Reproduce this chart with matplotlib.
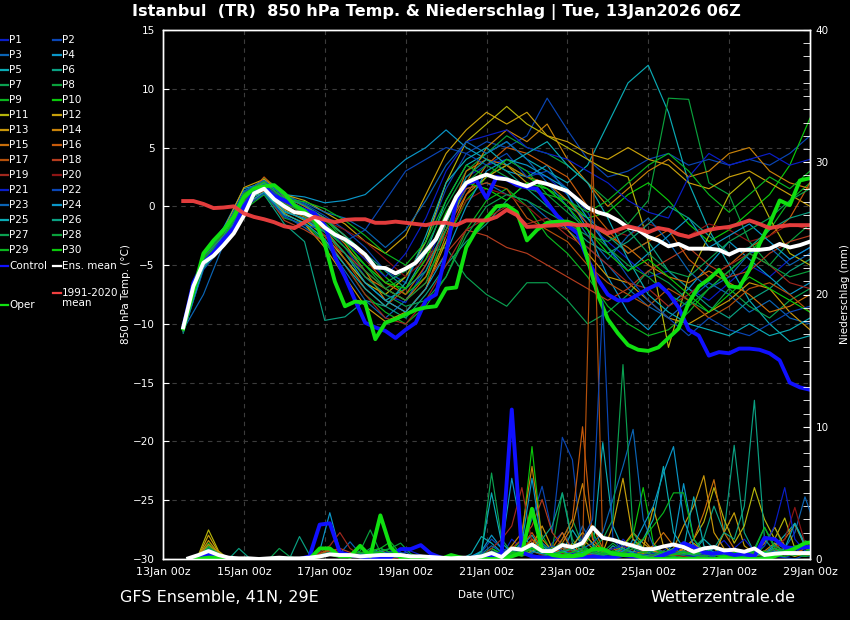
import numpy as np
import matplotlib
matplotlib.use("Agg")
import matplotlib.pyplot as plt
import matplotlib.dates as mdates
from matplotlib.lines import Line2D

# Zeitachsen: Temperatur 6-stuendlich ab 13Jan 12Z, Mitglieder 12-stuendlich, Niederschlag 6h-Summen (Mitte des Intervalls)
t6 = np.datetime64('2026-01-13T12:00') + np.arange(63) * np.timedelta64(6, 'h')
t12 = np.datetime64('2026-01-13T12:00') + np.arange(32) * np.timedelta64(12, 'h')
tp = np.datetime64('2026-01-13T15:00') + np.arange(63) * np.timedelta64(6, 'h')

# 850 hPa Temperatur (°C)
temp_control = [-10.3, -6.5, -4.8, -3.9, -2.8, -1.8, 0.0, 1.2, 1.65, 0.9, 0.5, 0.1, -0.3, -0.6, -1.6, -4.3,
                -6.0, -8.0, -9.9, -10.3, -10.6, -11.2, -10.5, -9.9, -8.0, -7.5, -4.0, 0.5, 1.9, 2.2, 0.7, 2.5,
                2.3, 1.8, 1.6, 1.5, 0.3, -0.8, -1.6, -2.3, -4.5, -6.2, -7.5, -8.0, -8.0, -7.5, -7.0, -6.6,
                -7.4, -8.6, -10.5, -11.0, -12.7, -12.4, -12.5, -12.1, -12.1, -12.2, -12.5, -13.1, -15.0, -15.4, -15.6]
temp_oper = [-10.4, -7.2, -4.0, -2.9, -2.0, -0.9, 0.8, 1.5, 1.7, 1.8, 1.1, 0.1, -0.4, -1.2, -3.2, -6.4,
             -8.5, -8.1, -8.2, -11.3, -9.9, -9.6, -9.2, -8.8, -8.6, -8.5, -7.0, -6.9, -3.5, -2.0, -1.0, 0.0,
             0.1, -0.5, -2.9, -2.0, -1.4, -1.3, -1.3, -1.6, -4.5, -7.5, -9.6, -10.8, -11.8, -12.2, -12.3, -12.0,
             -11.2, -10.4, -8.2, -6.8, -6.2, -5.4, -6.8, -6.9, -5.4, -3.2, -1.5, 0.5, 0.1, 2.2, 2.4]
temp_mean = [-10.3, -6.8, -4.8, -4.2, -3.3, -2.3, -0.8, 1.1, 1.5, 0.6, 0.0, -0.5, -0.6, -1.0, -1.8, -2.4,
             -2.8, -3.4, -4.1, -5.2, -5.25, -5.7, -5.3, -4.8, -3.8, -2.8, -1.0, 0.8, 2.0, 2.4, 2.7, 2.4,
             2.3, 2.0, 1.7, 2.1, 1.9, 1.6, 1.3, 0.6, -0.1, -0.5, -0.75, -1.2, -1.8, -2.0, -2.6, -2.9,
             -3.4, -3.2, -3.6, -3.6, -3.6, -3.7, -4.1, -3.7, -3.7, -3.7, -3.6, -3.2, -3.5, -3.3, -3.0]
temp_clim = [0.45, 0.45, 0.2, -0.15, -0.1, 0.0, -0.6, -0.9, -1.1, -1.35, -1.7, -1.85, -1.35, -0.9, -1.15, -1.35,
             -1.15, -1.1, -1.1, -1.4, -1.4, -1.3, -1.4, -1.5, -1.6, -1.4, -1.4, -1.6, -1.2, -1.2, -1.2, -0.9,
             -0.3, -0.75, -1.75, -1.7, -1.65, -1.6, -1.5, -1.6, -1.6, -1.85, -2.3, -2.0, -1.7, -1.9, -2.2, -1.85,
             -2.0, -2.4, -2.6, -2.3, -2.0, -1.85, -1.75, -1.5, -1.2, -1.5, -1.85, -1.7, -1.6, -1.6, -1.6]

# Mitglieder P1..P30, 12-stuendlich
temp_members = [
    [-10.6, -4.6, -2.5, 0.8, 1.8, 0.2, -0.5, -1.5, -3.5, -6.0, -7.5, -8.2, -5.0, -1.0, 2.5, 3.5, 4.0, 3.0, 2.5, 1.0, -1.5, -3.0, -4.5, -6.0, -5.5, -7.0, -8.0, -6.5, -5.0, -6.0, -4.5, -3.5],
    [-10.4, -4.2, -2.2, 1.2, 2.2, 0.8, 0.2, -0.8, -2.0, -3.5, -5.5, -6.5, -3.0, 1.5, 4.5, 5.5, 5.0, 6.0, 9.2, 6.5, 4.0, 2.5, 3.0, 4.0, 4.5, 3.5, 4.0, 3.5, 4.0, 3.5, 4.5, 6.0],
    [-10.5, -7.5, -3.2, 0.2, 1.5, -0.8, -1.8, -3.0, -5.5, -8.0, -9.5, -8.0, -5.5, -2.0, 1.5, 2.0, 1.0, 0.5, -1.0, -2.0, -3.5, -5.0, -7.0, -8.5, -9.5, -8.0, -6.5, -7.5, -9.0, -8.0, -9.5, -10.0],
    [-10.2, -4.0, -1.8, 1.5, 2.0, 1.0, 0.8, 0.3, 0.5, 1.0, 2.5, 4.0, 5.0, 6.5, 5.0, 4.0, 3.0, 2.5, 3.5, 1.0, -2.0, -6.0, -9.0, -10.5, -8.5, -7.0, -5.0, -3.0, -4.5, -6.0, -7.5, -6.5],
    [-10.5, -4.8, -2.8, 0.5, 1.2, -0.5, -1.0, -2.5, -4.5, -6.5, -8.0, -7.0, -4.0, 0.5, 3.5, 4.5, 5.5, 4.0, 3.0, 2.0, 3.5, 7.0, 10.5, 12.0, 8.0, 2.0, -2.0, -5.0, -8.0, -10.0, -11.5, -11.0],
    [-10.8, -5.2, -3.0, 0.0, 1.0, -1.5, -3.0, -9.7, -9.4, -8.0, -8.5, -9.5, -7.5, -5.0, -3.0, -1.5, 0.5, 2.0, 1.5, 0.0, -1.0, -2.5, -4.0, -3.0, -5.5, -7.0, -8.5, -9.5, -8.0, -7.0, -5.5, -4.5],
    [-10.6, -5.0, -3.2, 0.0, 1.8, 0.5, -0.8, -2.0, -3.5, -5.0, -6.5, -5.5, -4.0, -3.5, -6.0, -7.5, -8.5, -6.5, -6.5, -8.0, -10.0, -9.0, -7.5, -5.5, -6.5, -8.0, -9.0, -7.0, -8.5, -9.5, -8.0, -7.0],
    [-10.4, -4.5, -2.6, 1.0, 2.4, 1.2, 0.0, -1.0, -3.0, -5.0, -7.0, -6.0, -3.5, 0.0, 3.0, 4.5, 6.0, 5.0, 4.5, 3.5, 2.0, 0.5, -1.5, 0.5, 9.2, 9.1, 2.0, 1.0, -3.0, -5.0, -3.0, -1.5],
    [-10.7, -5.3, -3.4, -0.3, 1.0, -1.0, -1.5, -3.0, -5.0, -7.5, -9.0, -10.0, -8.5, -6.0, -2.0, 0.5, 1.5, 0.0, -2.5, -4.0, -6.0, -8.5, -10.0, -11.0, -10.5, -9.0, -7.0, -5.5, -4.0, -2.0, 0.5, 2.0],
    [-10.3, -4.3, -2.4, 0.8, 2.0, 0.6, -0.2, -1.2, -2.5, -4.0, -6.0, -7.5, -6.0, -3.0, 0.5, 2.5, 3.5, 2.5, 1.5, 0.5, -1.0, -0.5, 1.0, 2.0, 0.5, -1.5, -3.0, -2.0, -0.5, 1.0, 3.5, 7.5],
    [-10.5, -4.6, -2.7, 0.4, 1.4, -0.3, -1.2, -2.5, -4.5, -6.5, -7.5, -6.0, -3.0, 2.0, 5.5, 7.0, 8.5, 7.0, 6.0, 5.0, 4.0, 3.0, 2.5, -3.0, -12.0, -6.0, -2.5, 1.0, 2.5, -1.0, -4.0, -5.0],
    [-10.4, -4.0, -2.0, 1.6, 2.3, 1.0, 0.5, -0.5, -1.5, -3.0, -4.0, -2.5, 1.0, 4.5, 6.5, 8.0, 7.0, 8.0, 6.0, 5.5, 4.5, 4.0, 5.0, 4.0, 3.5, 2.0, 1.5, 2.5, 3.0, 2.0, 1.0, 0.0],
    [-10.6, -5.0, -3.0, 0.2, 1.6, -0.6, -1.5, -3.5, -6.0, -8.5, -9.8, -9.0, -7.0, -3.0, 1.0, 2.5, 3.5, 2.0, 0.5, -2.0, -4.0, -6.0, -6.5, -8.0, -9.5, -10.0, -9.0, -8.0, -6.5, -7.0, -9.0, -10.5],
    [-10.5, -4.4, -2.5, 0.9, 2.1, 0.4, -0.3, -1.5, -3.2, -5.5, -8.0, -9.0, -7.0, -2.5, 2.0, 5.0, 6.5, 5.5, 7.0, 4.0, 2.0, 0.0, 1.5, 3.0, 4.0, 2.5, 3.0, 4.5, 5.0, 3.0, 2.0, 1.5],
    [-10.3, -4.9, -2.9, 0.3, 1.5, -0.2, -0.9, -2.0, -4.0, -6.0, -7.0, -8.0, -6.0, -1.5, 3.0, 4.0, 3.5, 2.5, 2.0, 0.5, -1.5, -2.5, -3.5, -5.0, -6.0, -6.5, -5.5, -6.5, -7.5, -9.0, -8.5, -7.5],
    [-10.6, -4.7, -2.6, 0.6, 2.5, 0.8, 0.0, -1.0, -2.5, -4.5, -6.5, -7.5, -5.0, -2.0, 1.0, 3.5, 5.0, 4.5, 3.5, 2.5, 0.0, -2.0, -4.0, -3.0, -2.0, -4.5, -6.0, -5.0, -3.5, -2.5, -1.0, 2.0],
    [-10.4, -4.3, -2.3, 1.0, 1.9, 0.3, -0.6, -2.0, -4.5, -7.0, -8.5, -7.0, -4.5, -1.0, 1.5, 2.0, 1.5, -1.0, -2.0, -3.0, -5.0, -6.5, -7.5, -8.5, -7.0, -8.0, -9.5, -8.5, -7.0, -6.5, -7.5, -9.0],
    [-10.5, -5.1, -3.1, -0.2, 1.3, -1.2, -2.0, -3.0, -4.0, -5.5, -7.0, -8.0, -6.5, -4.0, -2.0, -2.5, -3.5, -4.0, -5.0, -6.0, -7.0, -8.0, -7.0, -5.5, -4.5, -3.5, -5.0, -6.0, -5.5, -4.0, -3.0, -2.5],
    [-10.6, -4.8, -2.7, 0.5, 1.7, 0.0, -0.7, -2.5, -5.0, -7.5, -9.5, -10.0, -8.0, -5.0, -2.0, -1.0, 0.0, -1.5, -1.0, -2.5, -3.5, -5.0, -6.5, -7.0, -8.5, -7.5, -6.0, -5.0, -4.0, -5.0, -6.5, -7.0],
    [-10.4, -4.4, -2.4, 0.7, 1.6, 0.1, -0.4, -1.2, -2.0, -3.0, -4.5, -6.0, -4.5, -2.5, 0.5, 1.5, 1.0, 0.0, -1.5, -2.0, -1.5, -2.0, -2.5, -1.5, -2.0, -2.5, -1.5, -2.0, -3.0, -2.5, -1.5, -2.0],
    [-10.5, -4.5, -2.6, 0.6, 1.9, 0.5, -0.2, -1.5, -3.0, -4.5, -6.0, -4.0, -1.0, 3.0, 5.5, 6.0, 6.5, 5.0, 4.5, 4.0, 3.0, 2.0, 0.5, -0.5, -1.0, 2.5, 4.5, 3.5, 4.0, 4.5, 3.5, 4.0],
    [-10.7, -5.4, -3.3, -0.1, 1.1, -0.9, -1.6, -2.0, -3.0, -2.0, 0.5, 3.0, 4.0, 5.0, 4.5, 3.5, 4.5, 2.5, 3.0, 1.5, -0.5, -3.5, -6.0, -8.0, -9.5, -11.0, -9.5, -10.5, -11.0, -10.0, -9.0, -8.5],
    [-10.3, -4.1, -2.1, 1.3, 2.2, 0.9, 0.3, -0.5, -1.0, -2.0, -3.5, -2.0, 0.5, 3.5, 5.5, 4.5, 5.5, 4.0, 2.0, 0.0, -2.5, -4.5, -2.5, -1.0, -3.0, -5.5, -7.0, -6.0, -4.0, -3.5, -5.0, -4.0],
    [-10.5, -4.7, -2.9, 0.3, 1.5, -0.4, -1.1, -2.2, -4.0, -6.5, -8.0, -9.0, -7.0, -4.0, 0.0, 3.0, 4.0, 3.5, 2.5, 1.5, -1.0, -3.5, -5.5, -4.0, -2.5, -1.0, -3.5, -2.5, -1.5, -3.0, -4.5, -3.5],
    [-10.6, -5.2, -3.1, 0.1, 1.2, -0.7, -1.4, -2.8, -5.0, -7.0, -8.5, -6.5, -2.5, 2.0, 4.0, 5.0, 3.5, 4.5, 5.5, 3.5, 2.0, -1.0, -4.5, -7.5, -9.0, -10.0, -10.5, -11.0, -10.0, -11.0, -10.5, -9.5],
    [-10.4, -4.3, -2.5, 0.8, 2.0, 0.7, 0.1, -1.0, -2.5, -4.0, -5.5, -7.0, -5.5, -1.5, 2.5, 4.0, 3.0, 1.5, 0.0, -1.5, -3.0, -4.0, -3.0, -1.5, 0.0, -1.0, -2.5, -4.0, -3.5, -2.0, -1.0, -0.5],
    [-10.5, -4.9, -3.0, 0.4, 1.7, -0.1, -0.8, -2.2, -4.0, -6.0, -7.5, -8.5, -8.0, -6.0, -2.5, 0.0, 1.0, 0.5, -0.5, -1.5, -2.5, -3.0, -2.0, -4.0, -5.5, -6.0, -4.5, -3.0, -2.0, -1.0, 0.5, 1.5],
    [-10.6, -4.6, -2.8, 0.6, 1.6, 0.2, -0.5, -1.8, -3.5, -5.5, -7.0, -8.0, -6.5, -2.0, 2.0, 3.5, 2.5, 1.5, 1.0, -0.5, -2.0, -3.5, -5.0, -6.0, -7.5, -8.5, -7.0, -5.5, -4.0, -5.0, -6.0, -5.5],
    [-10.4, -4.2, -2.3, 1.1, 2.1, 0.6, 0.4, -0.2, -1.2, -2.5, -4.0, -5.0, -3.0, 0.5, 3.5, 2.5, 4.0, 3.0, 1.0, 0.5, -0.5, 0.5, 2.0, 3.5, 4.5, 3.0, 1.0, -0.5, 1.0, 2.5, 1.5, 3.0],
    [-10.5, -4.5, -2.7, 0.7, 1.8, 0.4, -0.4, -1.4, -3.0, -5.0, -6.5, -7.0, -4.5, -0.5, 2.0, 1.5, 0.5, 2.0, 1.5, 0.0, -2.0, -4.0, -5.5, -4.5, -6.0, -7.5, -9.0, -7.5, -6.0, -7.0, -8.0, -9.0],
]

# Niederschlag (mm / 6h)
prec_control = [0, 0.1, 0.4, 0.2, 0, 0, 0, 0, 0, 0, 0, 0, 0.2, 2.6, 2.7, 0.5,
                0.3, 0.2, 0.1, 0.1, 0.1, 0.75, 0.75, 1.05, 0.4, 0.1, 0, 0, 0, 0, 0.2, 0.4,
                11.3, 0.5, 0.2, 0.1, 0.1, 0, 0.1, 0.1, 0.2, 0.1, 0.1, 0.3, 0.2, 0.1, 0, 0.3,
                0.6, 1.2, 0.9, 0.5, 0.4, 0.5, 0.3, 0.4, 0.2, 1.6, 1.5, 0.9, 0.8, 0.9, 0.9]
prec_oper = [0, 0, 0.1, 0.1, 0, 0, 0, 0, 0, 0, 0, 0, 0, 0.8, 0.8, 0.2,
             0.2, 1.0, 0.2, 3.3, 0.9, 0.1, 0, 0, 0, 0, 0.3, 0.1, 0, 0, 0, 0,
             0.2, 0.45, 3.8, 0.7, 0.3, 0.2, 0.2, 0.3, 0.75, 0.75, 0.4, 0.3, 0.3, 0.1, 0, 0,
             0, 0, 0, 0, 0, 0.1, 0, 0, 0, 0, 0.2, 0.5, 0.8, 1.2, 1.3]
prec_mean = [0.05, 0.3, 0.6, 0.3, 0.1, 0.05, 0.05, 0, 0.05, 0.1, 0.05, 0.05, 0.1, 0.2, 0.35, 0.3,
             0.3, 0.2, 0.25, 0.3, 0.3, 0.3, 0.2, 0.2, 0.15, 0.1, 0.05, 0.1, 0.1, 0.2, 0.45, 0.15,
             0.8, 0.7, 1.1, 0.6, 0.6, 1.05, 0.9, 1.2, 2.4, 1.6, 1.45, 1.2, 1.0, 0.75, 0.75, 0.95,
             1.1, 0.9, 0.55, 0.8, 0.9, 0.65, 0.7, 0.55, 0.8, 0.3, 0.4, 0.45, 0.45, 0.45, 0.45]

prec_members = [
    [0, 0.1, 0.6, 0.3, 0, 0, 0, 0, 0, 0, 0, 0, 0, 0.3, 0.5, 0.2,
     0.1, 0.3, 0.5, 0.2, 0, 0.4, 0.6, 0.3, 0.1, 0, 0, 0, 0, 0.1, 0.6, 0.2,
     1.5, 0.8, 0.3, 0.2, 1.2, 2.0, 0.8, 0.4, 0.6, 0.3, 0.2, 1.5, 0.8, 0.4, 0.2, 0.6,
     1.2, 0.5, 0.3, 0.2, 0.8, 1.4, 0.5, 0.2, 0.3, 0.6, 0.2, 0.1, 0.4, 0.8, 0.5],
    [0, 0, 0.4, 0.2, 0, 0, 0, 0, 0, 0, 0, 0, 0, 0.2, 0.8, 0.3,
     0.2, 0.1, 0, 0.3, 0.5, 0.2, 0.1, 0, 0, 0, 0, 0, 0.2, 0.5, 1.5, 0.8,
     0.5, 1.2, 3.0, 5.5, 2.0, 9.2, 7.5, 0.5, 0.3, 0.2, 1.0, 0.5, 0.2, 0.1, 0.3, 0.6,
     0.2, 0.1, 0, 0, 0.3, 0.5, 0.2, 0.1, 0, 0.2, 0.4, 0.1, 0, 0.3, 0.2],
    [0, 0.1, 0.5, 0.2, 0, 0, 0, 0, 0, 0, 0, 0, 0, 0.4, 0.6, 0.4,
     1.3, 0.4, 0.2, 0.1, 0.3, 0.5, 0.2, 0.1, 0, 0, 0, 0, 0, 0, 0.3, 0.1,
     0.8, 0.3, 0.5, 1.2, 0.4, 0.3, 0.6, 2.5, 1.0, 0.4, 0.3, 0.2, 0.5, 0.3, 0.8, 0.4,
     0.3, 0.2, 0.1, 0.5, 1.0, 0.4, 0.2, 0.6, 0.3, 0.2, 1.2, 0.8, 2.0, 4.7, 2.5],
    [0, 0.2, 0.9, 0.4, 0, 0, 0, 0, 0, 0, 0, 0, 0, 0.6, 3.5, 0.6,
     0.3, 0.2, 0.4, 0.8, 0.5, 0.2, 0.1, 0, 0, 0, 0, 0, 0.2, 0.6, 1.8, 0.8,
     6.1, 2.0, 0.8, 0.5, 0.3, 1.0, 0.4, 0.2, 0.8, 0.3, 0.5, 0.2, 1.5, 0.6, 0.3, 0.2,
     1.2, 5.7, 1.5, 0.4, 0.2, 0.6, 0.3, 0.2, 0.5, 0.3, 0.2, 0.8, 0.4, 0.2, 0.3],
    [0, 0.1, 0.7, 0.3, 0, 0, 0, 0, 0, 0, 0, 0, 0, 0.2, 0.4, 0.3,
     0.2, 0.4, 0.3, 0.6, 0.2, 0.1, 0, 0, 0, 0, 0, 0, 0.4, 1.7, 1.2, 0.5,
     0.4, 1.0, 1.8, 0.6, 0.3, 0.4, 2.2, 1.0, 0.5, 8.8, 2.5, 0.8, 0.4, 0.2, 0.1, 0.3,
     0.2, 0.4, 0.6, 1.5, 0.8, 0.3, 0.2, 0.1, 0.2, 0.5, 1.0, 1.8, 2.7, 1.2, 0.6],
    [0, 0, 0.3, 0.2, 0, 0.8, 0.1, 0, 0, 0, 0, 0, 0, 0.1, 0.3, 0.2,
     0.1, 0.2, 0.4, 0.3, 0.1, 0, 0, 0, 0, 0, 0, 0, 0, 0.3, 0.8, 0.3,
     0.2, 0.6, 1.2, 0.4, 0.3, 0.8, 0.5, 0.2, 0.4, 0.3, 1.0, 0.5, 0.2, 0.3, 0.6, 0.4,
     0.3, 0.2, 0.8, 1.6, 4.0, 2.0, 8.6, 2.0, 0.5, 0.3, 0.2, 0.4, 0.6, 0.3, 0.2],
    [0, 0, 0.4, 0.2, 0, 0, 0, 0, 0, 0, 0, 0, 0, 0.2, 0.5, 0.3,
     0.2, 0.3, 0.8, 0.4, 0.2, 0.1, 0, 0, 0, 0, 0, 0, 0, 0.5, 6.5, 1.5,
     0.5, 0.8, 0.6, 0.3, 0.2, 1.5, 3.0, 1.0, 0.4, 0.6, 0.3, 0.2, 0.5, 0.3, 0.2, 0.4,
     0.6, 0.3, 0.2, 0.1, 0.4, 0.8, 0.5, 0.3, 0.2, 1.0, 2.4, 0.8, 0.3, 0.5, 0.6],
    [0, 0.1, 0.8, 0.3, 0, 0, 0, 0, 0, 0, 0, 0, 0, 0.3, 0.4, 0.2,
     0.1, 0.6, 2.2, 0.5, 0.8, 0.3, 0.1, 0, 0, 0, 0, 0, 0, 0.2, 0.4, 0.2,
     0.6, 0.3, 1.0, 0.4, 0.8, 5.0, 1.5, 0.4, 0.3, 0.5, 1.2, 0.6, 0.3, 0.2, 0.4, 0.2,
     0.1, 0.2, 0.5, 0.3, 0.2, 0.6, 0.4, 0.3, 0.2, 0.3, 0.6, 0.4, 0.2, 1.4, 1.0],
    [0, 0.1, 1.2, 0.4, 0, 0, 0, 0, 0, 0, 0, 0, 0, 0.2, 0.3, 0.1,
     0.2, 0.3, 0.6, 0.8, 1.3, 0.4, 0.2, 0, 0, 0, 0, 0, 0, 0.1, 0.3, 0.1,
     0.4, 0.2, 0.6, 1.8, 0.5, 0.3, 0.2, 0.8, 2.0, 0.6, 0.3, 0.5, 0.2, 0.4, 0.8, 0.3,
     0.2, 0.4, 0.3, 0.2, 0.5, 0.3, 0.2, 0.6, 0.3, 0.2, 0.4, 0.6, 0.3, 0.2, 0.4],
    [0, 0.2, 1.0, 0.3, 0, 0, 0, 0, 0, 0, 0, 0, 0, 0.3, 0.5, 0.2,
     0.2, 0.4, 0.5, 0.3, 0.2, 0.1, 0, 0, 0, 0, 0, 0, 0, 0.3, 0.8, 0.4,
     0.6, 1.5, 8.5, 1.2, 0.4, 0.3, 0.6, 0.8, 0.4, 0.3, 0.5, 1.0, 1.8, 5.4, 1.2, 0.4,
     0.3, 0.2, 0.1, 0.3, 0.5, 0.2, 0.1, 0.2, 0.4, 0.6, 0.3, 0.2, 0.4, 0.6, 0.8],
    [0, 0.3, 2.2, 0.6, 0, 0, 0, 0, 0, 0, 0, 0, 0, 0.1, 0.3, 0.2,
     0.1, 0.2, 0.3, 0.2, 0.1, 0, 0, 0, 0, 0, 0, 0, 0, 0.2, 0.3, 0.1,
     0.4, 0.3, 0.6, 0.8, 0.3, 0.2, 1.2, 0.6, 0.3, 0.5, 0.8, 0.4, 0.2, 0.6, 1.0, 0.5,
     0.3, 0.8, 1.5, 2.8, 5.4, 3.0, 1.2, 2.5, 5.4, 3.0, 1.5, 3.1, 0.8, 0.4, 0.3],
    [0, 0.2, 1.8, 0.5, 0, 0, 0, 0, 0, 0, 0, 0, 0, 0.2, 0.4, 0.2,
     0.1, 0.2, 0.4, 0.2, 0.1, 0, 0, 0, 0, 0, 0, 0, 0, 0.1, 0.2, 0.1,
     0.3, 0.5, 1.5, 0.8, 0.3, 0.6, 1.0, 2.0, 1.2, 0.5, 2.5, 6.1, 1.5, 0.8, 3.9, 1.0,
     0.4, 0.6, 1.2, 0.5, 0.3, 2.0, 3.5, 1.0, 0.4, 0.3, 0.8, 0.5, 0.2, 0.4, 0.3],
    [0, 0.2, 1.4, 0.4, 0, 0, 0, 0, 0, 0, 0, 0, 0, 0.2, 0.3, 0.2,
     0.1, 0.2, 0.3, 0.2, 0.1, 0, 0, 0, 0, 0, 0, 0, 0, 0.2, 0.4, 0.2,
     0.5, 0.4, 1.0, 2.5, 0.8, 0.4, 0.3, 1.5, 0.8, 0.4, 0.3, 1.0, 2.0, 1.2, 0.6, 0.3,
     0.8, 2.5, 4.0, 6.3, 2.0, 0.8, 0.5, 0.3, 0.5, 1.2, 2.4, 1.0, 0.6, 0.3, 0.4],
    [0, 0.2, 1.1, 0.4, 0, 0, 0, 0, 0, 0, 0, 0, 0, 0.3, 0.6, 0.3,
     0.2, 0.3, 0.2, 0.4, 0.3, 0.1, 0, 0, 0, 0, 0, 0, 0, 0.2, 0.6, 0.3,
     1.0, 2.0, 7.0, 1.5, 0.6, 1.2, 2.5, 5.7, 1.5, 0.6, 0.4, 0.3, 0.8, 1.5, 0.6, 0.4,
     0.3, 0.8, 1.0, 0.6, 0.4, 0.2, 0.3, 0.5, 0.3, 0.6, 1.2, 0.4, 0.8, 0.5, 0.3],
    [0, 0.1, 0.9, 0.3, 0, 0, 0, 0, 0, 0, 0, 0, 0, 0.4, 0.7, 0.3,
     0.3, 0.4, 0.6, 0.3, 0.2, 0.1, 0, 0, 0, 0, 0, 0, 0, 0.1, 0.5, 0.2,
     0.4, 0.6, 1.2, 0.5, 0.8, 2.0, 0.6, 0.8, 2.5, 0.8, 0.4, 0.3, 0.6, 0.4, 1.0, 2.0,
     1.0, 0.6, 1.5, 3.5, 6.0, 2.0, 0.8, 0.4, 0.3, 0.5, 0.8, 1.5, 2.6, 1.0, 0.5],
    [0, 0.1, 0.7, 0.3, 0, 0, 0, 0, 0, 0, 0, 0, 0, 0.3, 0.5, 0.4,
     0.2, 0.3, 0.5, 0.4, 0.3, 0.2, 0.1, 0, 0, 0, 0, 0, 0, 0.2, 0.5, 0.3,
     0.6, 1.0, 2.0, 0.8, 0.5, 1.5, 3.0, 10.0, 1.5, 0.6, 0.4, 0.8, 1.2, 0.5, 0.3, 0.6,
     0.4, 0.3, 0.6, 0.4, 0.3, 0.5, 0.8, 0.4, 0.3, 0.5, 0.6, 0.3, 0.4, 0.8, 0.5],
    [0, 0.1, 0.6, 0.2, 0, 0, 0, 0, 0, 0, 0, 0, 0, 0.4, 0.8, 0.5,
     0.4, 0.3, 0.5, 0.6, 0.4, 0.2, 0.1, 0, 0, 0, 0, 0, 0, 0.1, 0.4, 0.2,
     0.5, 0.8, 1.5, 0.6, 0.4, 0.8, 0.5, 0.6, 31.0, 0.8, 0.4, 0.3, 0.5, 0.3, 0.2, 0.4,
     0.6, 0.4, 0.3, 0.2, 0.5, 0.4, 0.6, 0.3, 0.2, 0.4, 0.3, 0.5, 0.6, 0.4, 0.3],
    [0, 0.1, 0.8, 0.3, 0, 0, 0, 0, 0, 0, 0, 0, 0, 0.3, 0.6, 0.8,
     0.5, 0.4, 0.6, 0.5, 0.3, 0.2, 0, 0, 0, 0, 0, 0, 0, 0.2, 0.5, 0.3,
     0.8, 1.5, 2.5, 4.5, 2.0, 1.0, 0.6, 0.4, 0.3, 0.5, 0.8, 0.6, 0.4, 0.3, 0.2, 0.5,
     0.3, 0.4, 0.8, 0.5, 0.3, 0.2, 0.4, 0.6, 0.3, 0.4, 0.6, 0.8, 0.5, 0.3, 0.4],
    [0, 0.1, 0.5, 0.2, 0, 0, 0, 0, 0, 0, 0, 0, 0, 0.5, 1.0, 2.0,
     0.8, 0.3, 0.4, 0.3, 0.2, 0.1, 0, 0, 0, 0, 0, 0, 0, 0.2, 0.8, 1.5,
     2.5, 5.4, 1.2, 0.6, 0.4, 0.3, 0.8, 0.5, 0.4, 0.3, 0.6, 0.4, 0.3, 0.5, 0.8, 0.4,
     0.3, 0.2, 0.4, 0.6, 0.3, 0.2, 0.5, 0.3, 0.4, 0.6, 0.3, 0.5, 0.8, 0.4, 0.3],
    [0, 0.1, 0.4, 0.2, 0, 0, 0, 0, 0, 0, 0, 0, 0, 0.3, 0.4, 0.6,
     0.3, 0.2, 0.3, 0.2, 0.1, 0, 0, 0, 0, 0, 0, 0, 0, 0.1, 0.3, 0.2,
     0.4, 0.8, 0.6, 0.3, 0.5, 0.4, 0.6, 0.3, 0.5, 0.4, 0.3, 0.6, 0.4, 0.2, 0.3, 0.5,
     0.4, 0.2, 0.3, 0.5, 0.4, 0.3, 0.2, 0.4, 0.3, 0.5, 0.8, 1.5, 3.9, 1.2, 0.6],
    [0, 0.1, 0.6, 0.3, 0, 0, 0, 0, 0, 0, 0, 0, 0, 0.2, 0.4, 0.3,
     0.2, 0.3, 0.2, 0.4, 0.6, 0.3, 0.1, 0, 0, 0, 0, 0, 0, 0.2, 0.5, 0.2,
     0.4, 0.6, 0.8, 0.5, 0.3, 0.6, 0.4, 0.8, 0.6, 0.4, 0.8, 1.0, 0.5, 0.3, 0.4, 0.2,
     0.5, 0.3, 0.2, 0.4, 0.6, 0.3, 0.8, 1.5, 0.6, 1.0, 2.5, 5.4, 1.5, 0.6, 0.4],
    [0, 0.2, 0.8, 0.3, 0, 0, 0, 0, 0, 0, 0, 0, 0, 0.2, 0.5, 0.3,
     0.2, 0.4, 0.3, 0.5, 0.4, 0.2, 0.1, 0, 0, 0, 0, 0, 0, 0.3, 0.6, 0.4,
     0.6, 0.4, 0.8, 0.5, 1.0, 0.6, 0.8, 1.5, 3.0, 19.5, 1.5, 0.6, 0.4, 0.8, 0.5, 0.3,
     0.4, 0.3, 0.6, 0.4, 0.2, 0.5, 0.3, 0.4, 0.6, 0.4, 0.3, 0.8, 0.5, 1.0, 0.6],
    [0, 0.1, 0.7, 0.3, 0, 0, 0, 0, 0, 0, 0, 0, 0, 0.3, 0.5, 0.4,
     0.3, 0.2, 0.4, 0.3, 0.5, 0.8, 0.3, 0, 0, 0, 0, 0, 0, 0.4, 1.0, 0.5,
     0.8, 0.5, 0.4, 1.2, 0.6, 0.3, 0.5, 0.8, 1.2, 2.0, 4.5, 7.0, 9.8, 3.0, 1.0, 0.5,
     0.4, 0.6, 0.3, 0.2, 0.4, 0.3, 0.5, 0.2, 0.3, 0.4, 0.6, 0.3, 0.5, 0.4, 0.3],
    [0, 0.2, 0.9, 0.4, 0, 0, 0, 0, 0, 0, 0, 0, 0, 0.2, 0.4, 0.2,
     0.1, 0.3, 0.5, 0.3, 0.2, 0.1, 0, 0, 0, 0, 0, 0, 0, 0.3, 0.5, 0.3,
     0.5, 1.2, 6.1, 1.0, 0.4, 0.6, 0.3, 0.5, 0.8, 0.5, 0.3, 0.6, 1.0, 2.5, 4.0, 6.5,
     8.5, 3.0, 1.0, 0.5, 0.3, 0.2, 0.4, 0.3, 0.2, 0.5, 0.8, 0.4, 0.3, 0.6, 0.4],
    [0, 0.1, 0.6, 0.3, 0, 0, 0, 0, 0, 0, 0, 0, 0, 0.2, 0.4, 0.3,
     0.2, 0.3, 0.4, 0.6, 0.3, 0.2, 0.1, 0, 0, 0, 0, 0, 0, 0.6, 5.0, 1.2,
     0.5, 0.8, 0.6, 0.4, 0.3, 0.5, 0.8, 0.4, 0.6, 0.3, 0.4, 0.8, 0.5, 1.5, 3.0, 7.0,
     2.0, 0.8, 4.7, 1.0, 0.5, 0.3, 0.4, 0.6, 0.3, 0.5, 0.4, 0.8, 2.7, 1.0, 0.5],
    [0, 0.1, 0.5, 0.2, 0, 0, 0, 0, 0, 0, 0, 1.7, 0.3, 0.2, 0.5, 0.3,
     0.2, 0.3, 0.5, 0.4, 0.3, 0.1, 0, 0, 0, 0, 0, 0, 0, 0.2, 0.4, 0.2,
     0.4, 0.6, 0.8, 1.5, 2.5, 5.0, 1.2, 0.6, 0.4, 0.3, 0.5, 0.8, 0.4, 0.3, 0.2, 0.5,
     0.8, 0.4, 0.3, 0.5, 0.8, 2.0, 1.5, 4.0, 12.0, 1.5, 0.6, 0.4, 0.3, 0.5, 0.8],
    [0, 0.1, 0.6, 0.3, 0, 0, 0, 0, 0, 0.8, 0.2, 0, 0, 0.2, 0.4, 0.2,
     0.3, 0.4, 0.6, 0.5, 0.3, 0.2, 0, 0, 0, 0, 0, 0, 0, 0.2, 0.6, 0.3,
     0.5, 0.4, 1.0, 0.6, 0.8, 1.2, 0.6, 0.4, 0.8, 1.5, 3.0, 14.7, 2.0, 0.8, 0.5, 0.3,
     0.4, 0.6, 0.3, 0.5, 0.4, 0.2, 0.3, 0.5, 0.8, 2.4, 1.0, 0.6, 0.4, 0.3, 0.5],
    [0, 0.1, 0.7, 0.3, 0, 0, 0, 0, 0, 0, 0, 0, 0, 0.3, 0.5, 0.3,
     0.2, 0.3, 0.5, 0.6, 0.8, 1.2, 0.4, 0.1, 0, 0, 0, 0, 0, 0.2, 0.5, 0.3,
     0.6, 0.4, 0.8, 0.5, 0.3, 0.6, 0.8, 1.0, 0.5, 0.3, 0.6, 0.4, 0.8, 0.5, 0.3, 0.6,
     0.4, 0.3, 0.5, 0.2, 0.4, 0.6, 0.3, 0.4, 0.5, 0.3, 0.8, 0.6, 0.4, 0.3, 0.5],
    [0, 0.1, 0.9, 0.4, 0, 0, 0, 0, 0, 0, 0, 0, 0, 0.2, 0.4, 0.3,
     0.4, 0.5, 0.6, 0.8, 0.5, 0.3, 0.1, 0, 0, 0, 0, 0, 0, 0.3, 0.4, 0.2,
     0.4, 0.6, 0.8, 0.5, 0.4, 0.3, 0.5, 0.8, 0.6, 0.4, 0.3, 0.5, 1.0, 1.5, 2.5, 3.5,
     5.0, 5.0, 1.5, 0.6, 0.4, 0.3, 0.2, 0.4, 0.6, 2.4, 0.8, 0.5, 0.3, 0.4, 0.6],
    [0, 0.1, 0.6, 0.3, 0, 0, 0, 0, 0, 0, 0, 0, 0, 0.2, 0.3, 0.2,
     0.3, 0.2, 0.4, 0.5, 0.3, 0.2, 0.1, 0, 0, 0, 0, 0, 0, 0.2, 0.5, 0.2,
     0.5, 0.3, 0.8, 0.6, 0.4, 0.5, 0.3, 0.6, 0.8, 0.5, 0.6, 0.4, 0.3, 0.5, 0.8, 0.4,
     0.3, 0.5, 0.4, 0.6, 0.3, 0.2, 0.5, 0.3, 0.4, 0.6, 0.3, 0.5, 1.0, 0.8, 0.6],
]

member_colors = ['#0a1ec8', '#0a46b4', '#0a64b4', '#0a96c8', '#0aaab4', '#0aa082', '#0aa050',
                 '#0aa03c', '#0ab41e', '#0ac80a', '#b4b40a', '#c8a00a', '#c8960a', '#c8820a',
                 '#c86e0a', '#c85a0a', '#b4500a', '#b43c1e', '#a0281e', '#8c1414'] * 2
member_names = ['P%d' % (i + 1) for i in range(30)]

col_control = '#1010ff'
col_oper = '#10e010'
col_mean = '#ffffff'
col_clim = '#f04040'

plt.rcParams['font.family'] = 'DejaVu Sans'

fig = plt.figure(figsize=(8.5, 6.2), dpi=100, facecolor='black')
ax = fig.add_axes([163 / 850, 1 - 559 / 620, 647 / 850, 529 / 620])
ax.set_facecolor('black')
ax2 = ax.twinx()

# Temperatur
for vals, c in zip(temp_members, member_colors):
    ax.plot(t12, vals, color=c, lw=0.85)
ax.plot(t6, temp_control, color=col_control, lw=2.8)
ax.plot(t6, temp_oper, color=col_oper, lw=2.8)
ax.plot(t6, temp_mean, color=col_mean, lw=2.8)
ax.plot(t6, temp_clim, color=col_clim, lw=2.8, alpha=0.95)

# Niederschlag
for vals, c in zip(prec_members, member_colors):
    ax2.plot(tp[:len(vals)], vals, color=c, lw=0.85)
ax2.plot(tp, prec_control, color=col_control, lw=2.8)
ax2.plot(tp, prec_oper, color=col_oper, lw=2.8)
ax2.plot(tp, prec_mean, color=col_mean, lw=2.8)

ax.set_xlim(np.datetime64('2026-01-13T00:00'), np.datetime64('2026-01-29T00:00'))
ax.set_ylim(-30, 15)
ax2.set_ylim(0, 40)
ax.set_yticks(np.arange(-30, 16, 5))
ax2.set_yticks(np.arange(0, 41, 10))
ax2.set_yticks(np.arange(0, 41, 1), minor=True)

ax.xaxis.set_major_locator(mdates.DayLocator(interval=2))
ax.xaxis.set_major_formatter(mdates.DateFormatter('%d%b %Hz'))

ax.grid(True, color='#3c3c3c', linestyle=(0, (4, 4)), lw=0.8)

for a in (ax, ax2):
    for s in a.spines.values():
        s.set_color('white')
        s.set_linewidth(1.0)
ax.tick_params(axis='y', direction='in', length=4, colors='white', labelsize=7.5, pad=6)
ax.tick_params(axis='x', direction='in', length=0, colors='white', labelsize=8, pad=6)
ax2.tick_params(axis='y', which='both', direction='in', length=5, colors='white', labelsize=7.5, pad=4)

ax.set_ylabel('850 hPa Temp. (°C)', color='white', fontsize=7.5)
ax.yaxis.set_label_coords(-0.049, 0.5)
ax2.set_ylabel('Niederschlag (mm)', color='white', fontsize=7.5)
ax2.yaxis.set_label_coords(1.046, 0.5)
ax.set_xlabel('Date (UTC)', color='white', fontsize=7.5)
ax.xaxis.set_label_coords(0.5, -0.057)

fig.text(436 / 850, 1 - 12 / 620, 'Istanbul  (TR)  850 hPa Temp. & Niederschlag | Tue, 13Jan2026 06Z',
         color='white', fontsize=11.6, fontweight='bold', ha='center', va='center')
fig.text(120 / 850, 1 - 598 / 620, 'GFS Ensemble, 41N, 29E', color='white', fontsize=11.5,
         ha='left', va='center')
fig.text(650 / 850, 1 - 598 / 620, 'Wetterzentrale.de', color='white', fontsize=11.5,
         ha='left', va='center')

# Legende links (zwei Spalten)
def eintrag(x, y, farbe, text):
    fy = 1 - y / 620
    fig.add_artist(Line2D([x / 850, (x + 8) / 850], [fy, fy], color=farbe, lw=1.6,
                          transform=fig.transFigure))
    fig.text((x + 9) / 850, fy, text, color='white', fontsize=7.5, ha='left', va='center')

for i, (name, c) in enumerate(zip(member_names, member_colors)):
    col = i % 2
    row = i // 2
    eintrag(0 if col == 0 else 53, 40 + 15 * row, c, name)
eintrag(0, 266, col_control, 'Control')
eintrag(53, 266, col_mean, 'Ens. mean')
eintrag(53, 293, col_clim, '1991-2020')
fig.text(62 / 850, 1 - 303 / 620, 'mean', color='white', fontsize=7.5, ha='left', va='center')
eintrag(0, 305, col_oper, 'Oper')

fig.savefig('out.png', dpi=100, facecolor='black')
